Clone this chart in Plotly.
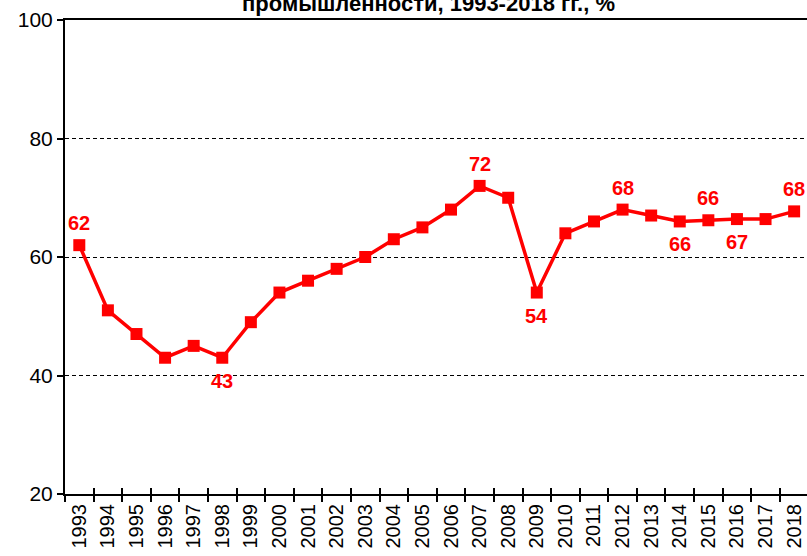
import plotly.graph_objects as go

years = [str(y) for y in range(1993, 2019)]
values = [62, 51, 47, 43, 45, 43, 49, 54, 56, 58, 60, 63, 65, 68, 72, 70,
          54, 64, 66, 68, 67, 66, 66.2, 66.4, 66.4, 67.7]

label_years = ["1993", "1998", "2007", "2009", "2012", "2014", "2015", "2016", "2018"]
label_texts = ["62", "43", "72", "54", "68", "66", "66", "67", "68"]
label_side = ["above", "below", "above", "below", "above", "below", "above", "below", "above"]

title_text = "промышленности, 1993-2018 гг., %"

FONT = "Liberation Sans, Arial, sans-serif"
RED = "#FF0000"

fig = go.Figure()
fig.add_trace(go.Scatter(
    x=years, y=values, mode="lines+markers",
    line=dict(color=RED, width=3.5),
    marker=dict(symbol="square", size=12, color=RED),
    hoverinfo="x+y", showlegend=False,
))
# invisible trace to carry the overlaid axis used for inside ticks
fig.add_trace(go.Scatter(
    x=years, y=values, xaxis="x2", mode="lines",
    line=dict(width=0), opacity=0, hoverinfo="skip", showlegend=False,
))

val_by_year = dict(zip(years, values))
for yr, txt, side in zip(label_years, label_texts, label_side):
    fig.add_annotation(
        x=years.index(yr), y=val_by_year[yr], text="<b>" + txt + "</b>",
        showarrow=False, xanchor="center", yanchor="middle",
        yshift=22 if side == "above" else -23,
        font=dict(family=FONT, size=20, color=RED),
    )

fig.add_annotation(
    xref="paper", yref="paper", x=0.49, y=1, xanchor="center", yanchor="bottom",
    yshift=2, text="<b>" + title_text + "</b>", showarrow=False,
    font=dict(family=FONT, size=22, color="black"),
)

fig.update_layout(
    width=807, height=556,
    margin=dict(l=65, r=0, t=20, b=61.5, pad=0),
    plot_bgcolor="white", paper_bgcolor="white",
    font=dict(family=FONT, color="black"),
    xaxis=dict(
        type="category", range=[-0.5, 25.45], tickson="boundaries",
        ticks="outside", ticklen=6, tickwidth=2, tickcolor="black",
        tickangle=-90, tickfont=dict(size=20, family=FONT, color="black"),
        showline=True, linecolor="black", linewidth=2, mirror=True,
        showgrid=False, automargin=False, fixedrange=True,
    ),
    xaxis2=dict(
        type="category", overlaying="x", matches="x", anchor="y", side="bottom",
        tickson="boundaries", ticks="inside", ticklen=6, tickwidth=2,
        tickcolor="black", showticklabels=False, showline=False, showgrid=False,
    ),
    yaxis=dict(
        range=[20, 100], tickvals=[20, 40, 60, 80, 100],
        ticks="outside", ticklen=6, tickwidth=2, tickcolor="black",
        tickfont=dict(size=21, family=FONT, color="black"),
        showline=True, linecolor="black", linewidth=2, mirror=False,
        showgrid=True, gridcolor="black", gridwidth=1, griddash="4px,3px",
        zeroline=False, automargin=False, fixedrange=True,
    ),
)

fig.write_html(
    "out.html",
    config={"displayModeBar": False},
    post_script=(
        "document.body.style.margin='0';"
        "document.body.style.overflow='hidden';"
        "document.documentElement.style.overflow='hidden';"
    ),
)
